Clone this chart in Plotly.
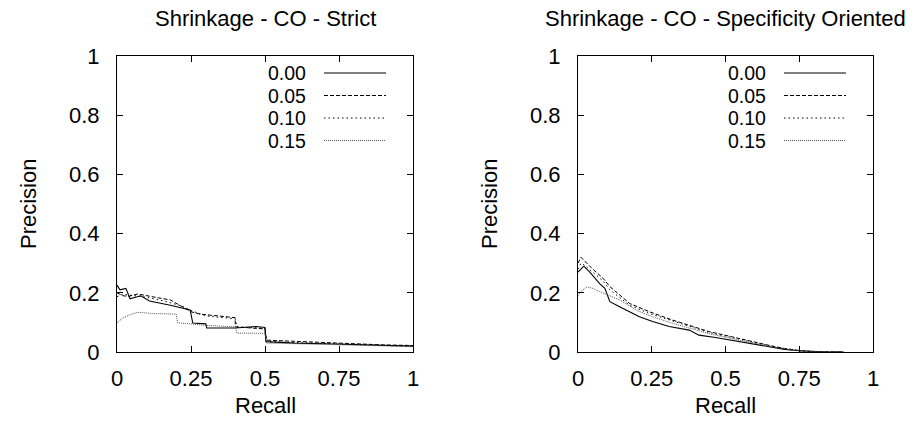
import plotly.graph_objects as go

# Left panel: Shrinkage - CO - Strict
strict_r_000 = [0, 0.01, 0.03, 0.044, 0.08, 0.11, 0.18, 0.247, 0.256, 0.30, 0.303, 0.40, 0.47, 0.50, 0.503, 0.6, 0.7, 0.8, 0.9, 1.0]
strict_p_000 = [0.226, 0.21, 0.215, 0.18, 0.19, 0.172, 0.158, 0.142, 0.098, 0.095, 0.081, 0.081, 0.086, 0.083, 0.035, 0.03, 0.028, 0.025, 0.022, 0.02]

strict_r_005 = [0, 0.02, 0.04, 0.07, 0.145, 0.18, 0.25, 0.28, 0.399, 0.40, 0.47, 0.50, 0.505, 0.6, 0.7, 0.8, 0.9, 1.0]
strict_p_005 = [0.2, 0.19, 0.188, 0.196, 0.182, 0.176, 0.136, 0.128, 0.116, 0.085, 0.080, 0.078, 0.04, 0.036, 0.03, 0.027, 0.024, 0.022]

strict_r_010 = [0, 0.02, 0.06, 0.1, 0.16, 0.22, 0.25, 0.30, 0.40, 0.405, 0.50, 0.505, 0.6, 0.7, 0.8, 0.9, 1.0]
strict_p_010 = [0.187, 0.195, 0.19, 0.185, 0.172, 0.155, 0.14, 0.122, 0.112, 0.085, 0.08, 0.035, 0.032, 0.028, 0.025, 0.022, 0.02]

strict_r_015 = [0, 0.02, 0.05, 0.07, 0.12, 0.2, 0.205, 0.25, 0.30, 0.40, 0.405, 0.50, 0.505, 0.6, 0.7, 0.8, 0.9, 1.0]
strict_p_015 = [0.099, 0.115, 0.128, 0.134, 0.13, 0.128, 0.099, 0.095, 0.09, 0.085, 0.064, 0.063, 0.03, 0.028, 0.025, 0.022, 0.02, 0.018]

# Right panel: Shrinkage - CO - Specificity Oriented
spec_r_000 = [0, 0.01, 0.02, 0.04, 0.074, 0.091, 0.108, 0.141, 0.208, 0.253, 0.309, 0.377, 0.41, 0.466, 0.545, 0.6, 0.65, 0.7, 0.75, 0.8, 0.85, 0.9]
spec_p_000 = [0.27, 0.28, 0.29, 0.27, 0.23, 0.215, 0.17, 0.153, 0.119, 0.103, 0.086, 0.074, 0.057, 0.049, 0.035, 0.025, 0.016, 0.009, 0.004, 0.001, 0, 0]

spec_r_005 = [0, 0.01, 0.02, 0.05, 0.085, 0.108, 0.175, 0.242, 0.32, 0.377, 0.444, 0.545, 0.6, 0.65, 0.7, 0.75, 0.8, 0.85, 0.9]
spec_p_005 = [0.3, 0.32, 0.31, 0.28, 0.249, 0.221, 0.164, 0.136, 0.108, 0.091, 0.069, 0.046, 0.033, 0.022, 0.012, 0.005, 0.001, 0, 0]

spec_r_010 = [0, 0.01, 0.02, 0.05, 0.085, 0.108, 0.175, 0.242, 0.32, 0.377, 0.444, 0.545, 0.6, 0.65, 0.7, 0.75, 0.8, 0.85, 0.9]
spec_p_010 = [0.28, 0.3, 0.295, 0.27, 0.24, 0.21, 0.158, 0.13, 0.104, 0.087, 0.066, 0.043, 0.031, 0.02, 0.011, 0.004, 0.001, 0, 0]

spec_r_015 = [0, 0.01, 0.03, 0.05, 0.074, 0.141, 0.2, 0.25, 0.32, 0.377, 0.444, 0.545, 0.6, 0.65, 0.7, 0.75, 0.8, 0.85, 0.9]
spec_p_015 = [0.19, 0.205, 0.22, 0.215, 0.204, 0.176, 0.14, 0.12, 0.097, 0.082, 0.062, 0.04, 0.029, 0.019, 0.01, 0.004, 0.001, 0, 0]

labels = ["0.00", "0.05", "0.10", "0.15"]
x_ticks = [0, 0.25, 0.5, 0.75, 1]
x_ticktext = ["0", "0.25", "0.5", "0.75", "1"]
y_ticks = [0, 0.2, 0.4, 0.6, 0.8, 1]
y_ticktext = ["0", "0.2", "0.4", "0.6", "0.8", "1"]

W, H = 921, 424
FONT = "Liberation Sans, Arial, sans-serif"
FS = 22
styles = [
    dict(color="black", width=1.1, dash="solid"),
    dict(color="black", width=1, dash="4px,2px"),
    dict(color="black", width=1, dash="1.5px,3px"),
    dict(color="#555", width=1, dash="1px,1px"),
]


def px(x):
    return x / W


def py(y):
    return 1 - y / H


left = [(strict_r_000, strict_p_000), (strict_r_005, strict_p_005),
        (strict_r_010, strict_p_010), (strict_r_015, strict_p_015)]
right = [(spec_r_000, spec_p_000), (spec_r_005, spec_p_005),
         (spec_r_010, spec_p_010), (spec_r_015, spec_p_015)]

fig = go.Figure()
for (r, p), st, lab in zip(left, styles, labels):
    fig.add_trace(go.Scatter(x=r, y=p, mode="lines", line=st, name=lab,
                             xaxis="x", yaxis="y", showlegend=False))
for (r, p), st, lab in zip(right, styles, labels):
    fig.add_trace(go.Scatter(x=r, y=p, mode="lines", line=st, name=lab,
                             xaxis="x2", yaxis="y2", showlegend=False))

# plot boxes in pixels
panels = [(117, 413), (578, 873)]
top_px, bot_px = 56, 352
ydom = [py(bot_px), py(top_px)]

axis_common = dict(range=[0, 1], showgrid=False, zeroline=False, showline=True,
                   linecolor="black", linewidth=1.2, mirror="ticks", ticks="inside",
                   ticklen=6, tickcolor="black", automargin=False,
                   tickfont=dict(family=FONT, size=FS, color="black"))

titles = ["Shrinkage - CO - Strict", "Shrinkage - CO - Specificity Oriented"]
txt_font = dict(family=FONT, size=FS, color="black")
leg_font = dict(family=FONT, size=19.5, color="black")
annotations = []
shapes = []
for i, (x0, x1) in enumerate(panels):
    sfx = "" if i == 0 else "2"
    fig.layout["xaxis" + sfx] = dict(axis_common, domain=[px(x0), px(x1)], anchor="y" + sfx,
                                     tickvals=x_ticks, ticktext=x_ticktext,
                                     ticklabelstandoff=6)
    fig.layout["yaxis" + sfx] = dict(axis_common, domain=ydom, anchor="x" + sfx,
                                     tickvals=y_ticks, ticktext=y_ticktext,
                                     ticklabelstandoff=12)
    cx = px((x0 + x1) / 2)
    annotations.append(dict(text=titles[i], x=cx, y=py(18), xref="paper", yref="paper",
                            xanchor="center", yanchor="middle", showarrow=False, font=txt_font))
    annotations.append(dict(text="Recall", x=cx, y=py(405), xref="paper", yref="paper",
                            xanchor="center", yanchor="middle", showarrow=False, font=txt_font))
    annotations.append(dict(text="Precision", x=px(x0 - 89), y=py(204), xref="paper",
                            yref="paper", xanchor="center", yanchor="middle", textangle=-90,
                            showarrow=False, font=txt_font))
    # in-plot legend: label text then line sample
    for k, lab in enumerate(labels):
        yc = py(73 + 22.5 * k)
        annotations.append(dict(text=lab, x=px(x1 - 106), y=yc, xref="paper", yref="paper",
                                xanchor="right", yanchor="middle", borderpad=0,
                                showarrow=False, font=leg_font))
        shapes.append(dict(type="line", xref="paper", yref="paper",
                           x0=px(x1 - 89), x1=px(x1 - 27), y0=yc, y1=yc,
                           line=styles[k]))

fig.update_layout(width=W, height=H,
                  margin=dict(l=0, r=0, t=0, b=0, pad=0, autoexpand=False),
                  paper_bgcolor="white", plot_bgcolor="white",
                  annotations=annotations, shapes=shapes,
                  font=dict(family=FONT, color="black"))

fig.write_html("out.html", config={"displayModeBar": False},
               post_script="document.body.style.margin='0';")
